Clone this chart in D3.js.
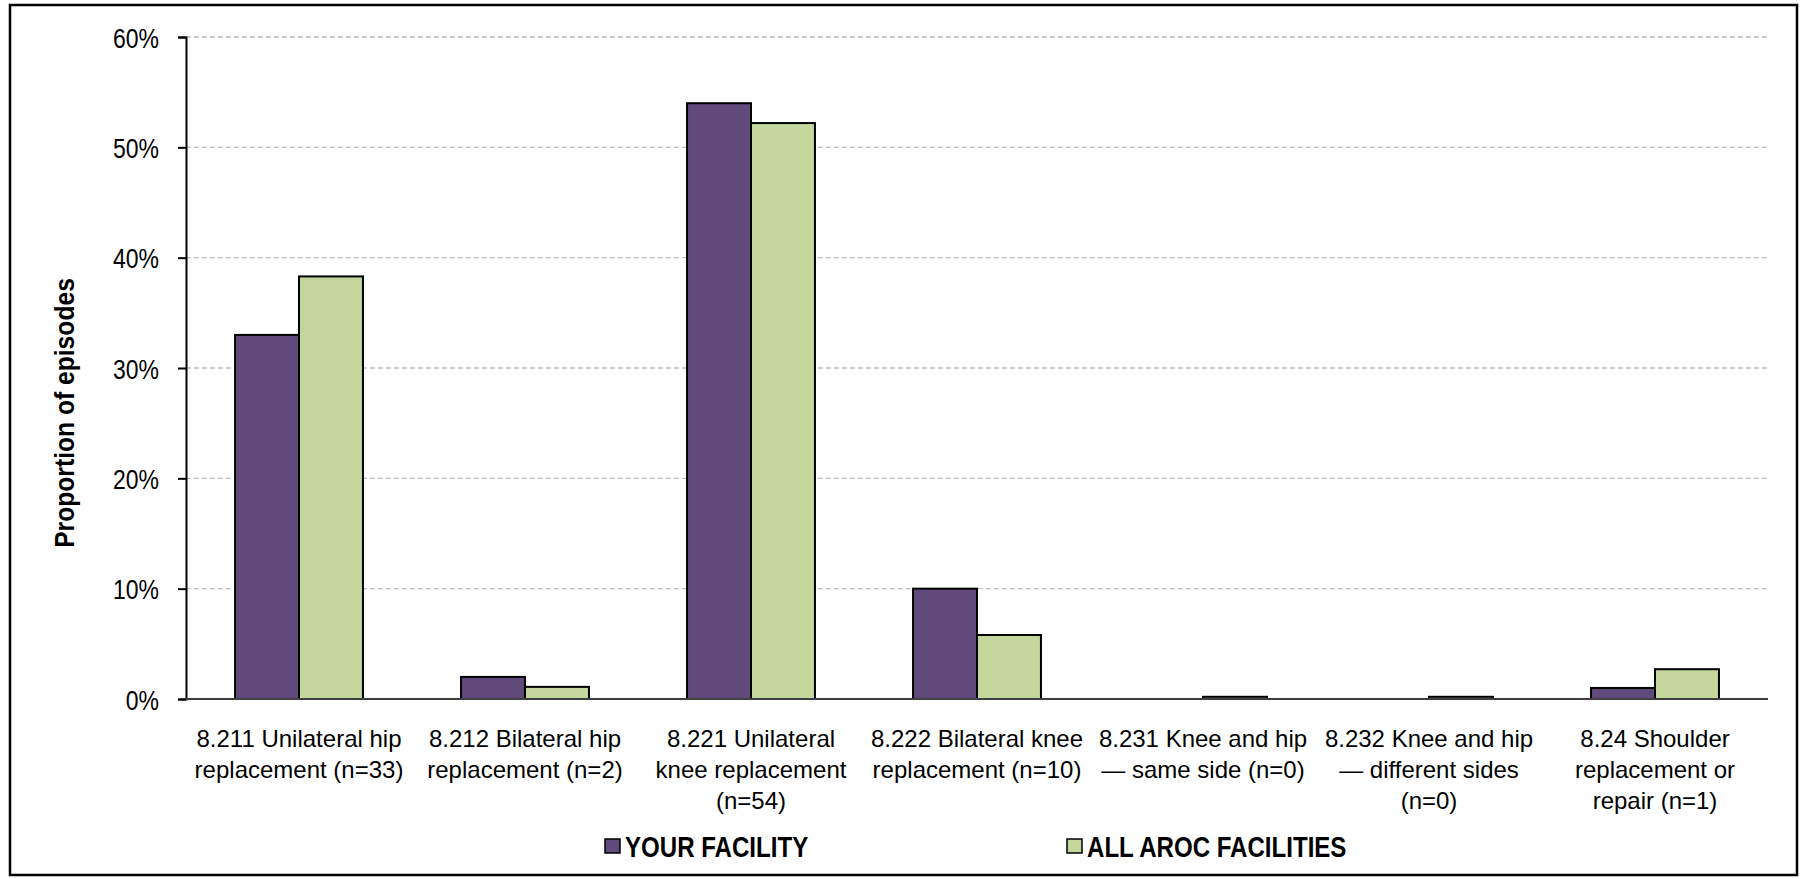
<!DOCTYPE html>
<html>
<head>
<meta charset="utf-8">
<script src="https://cdn.jsdelivr.net/npm/d3@7"></script>
<style>
  html, body { margin: 0; padding: 0; background: #ffffff; }
  svg { display: block; font-family: "Liberation Sans", Arial, sans-serif; }
</style>
</head>
<body>
<svg id="chart" width="1801" height="879"></svg>
<script>
// ---- data ----
const categories = [
  "8.211 Unilateral hip replacement (n=33)",
  "8.212 Bilateral hip replacement (n=2)",
  "8.221 Unilateral knee replacement (n=54)",
  "8.222 Bilateral knee replacement (n=10)",
  "8.231 Knee and hip — same side (n=0)",
  "8.232 Knee and hip — different sides (n=0)",
  "8.24 Shoulder replacement or repair (n=1)"
];
const categoryLines = [
  ["8.211 Unilateral hip", "replacement (n=33)"],
  ["8.212 Bilateral hip", "replacement (n=2)"],
  ["8.221 Unilateral", "knee replacement", "(n=54)"],
  ["8.222 Bilateral knee", "replacement (n=10)"],
  ["8.231 Knee and hip", "— same side (n=0)"],
  ["8.232 Knee and hip", "— different sides", "(n=0)"],
  ["8.24 Shoulder", "replacement or", "repair (n=1)"]
];
const seriesNames = ["YOUR FACILITY", "ALL AROC FACILITIES"];
const yourFacility = [33.0, 2.0, 54.0, 10.0, 0, 0, 1.0];
const allAroc = [38.3, 1.1, 52.2, 5.8, 0.2, 0.2, 2.7];
const yTicks = [0, 10, 20, 30, 40, 50, 60];
const yTitle = "Proportion of episodes";
const colors = ["#604A7B", "#C3D69B"];

// ---- layout ----
const svg = d3.select("#chart");
const plot = { left: 186, right: 1768, top: 37, bottom: 699 };

function squeeze(sel, f) {
  sel.each(function () {
    const w = this.getComputedTextLength();
    d3.select(this).attr("textLength", w * f).attr("lengthAdjust", "spacingAndGlyphs");
  });
}

// outer border
svg.append("rect")
  .attr("x", 10).attr("y", 5).attr("width", 1787).attr("height", 870)
  .attr("fill", "#fff").attr("stroke", "#000").attr("stroke-width", 2.5);

const x = d3.scaleBand().domain(categories).range([plot.left, plot.right])
  .paddingInner(0.434).paddingOuter(0.217);
const xs = d3.scaleBand().domain(seriesNames).range([0, x.bandwidth()]);
const y = d3.scaleLinear().domain([0, 60]).range([plot.bottom, plot.top]);

// gridlines
svg.append("g").selectAll("line").data(yTicks.filter(d => d > 0)).join("line")
  .attr("x1", plot.left).attr("x2", plot.right)
  .attr("y1", d => y(d)).attr("y2", d => y(d))
  .attr("stroke", "#BFBFBF").attr("stroke-width", 1.3).attr("stroke-dasharray", "5,3");

// bars
const data = categories.map((c, i) => ({ c, vals: [yourFacility[i], allAroc[i]] }));
const groups = svg.append("g").selectAll("g").data(data).join("g")
  .attr("transform", d => `translate(${x(d.c)},0)`);
groups.selectAll("rect")
  .data(d => d.vals.map((v, j) => ({ s: seriesNames[j], v, j })).filter(e => e.v > 0))
  .join("rect")
  .attr("x", e => xs(e.s)).attr("width", xs.bandwidth())
  .attr("y", e => y(e.v)).attr("height", e => plot.bottom - y(e.v))
  .attr("fill", e => colors[e.j]).attr("stroke", "#000").attr("stroke-width", 2);

// y axis
const yAxis = svg.append("g").attr("transform", `translate(${plot.left},0)`)
  .call(d3.axisLeft(y).tickValues(yTicks).tickFormat(d => d + "%").tickSize(8).tickPadding(19));
yAxis.select(".domain").attr("stroke", "#000").attr("stroke-width", 2);
yAxis.selectAll(".tick line").attr("stroke", "#000").attr("stroke-width", 2);
yAxis.selectAll(".tick text").attr("font-size", 28).attr("fill", "#000")
  .attr("font-family", "'Liberation Sans', Arial, sans-serif").attr("dy", "0.36em");
squeeze(yAxis.selectAll(".tick text"), 0.82);

// x axis
const xAxis = svg.append("g").attr("transform", `translate(0,${plot.bottom})`)
  .call(d3.axisBottom(x).tickSize(0).tickSizeOuter(0));
xAxis.select(".domain").attr("stroke", "#404040").attr("stroke-width", 2.2)
  .attr("d", `M${plot.left},0H${plot.right}`);
xAxis.selectAll(".tick text").each(function (d, i) {
  const t = d3.select(this);
  t.text(null).attr("y", 0).attr("dy", null)
    .attr("font-size", 24).attr("fill", "#000")
    .attr("font-family", "'Liberation Sans', Arial, sans-serif");
  categoryLines[i].forEach((line, k) => {
    t.append("tspan").attr("x", 0).attr("y", 48 + k * 31).text(line);
  });
});

// y title
const yt = svg.append("text")
  .attr("transform", "translate(74,413) rotate(-90)")
  .attr("text-anchor", "middle").attr("font-size", 28).attr("font-weight", "bold")
  .attr("fill", "#000").text(yTitle);
squeeze(yt, 0.88);

// legend
const legendPos = [{ sx: 605, tx: 625 }, { sx: 1067, tx: 1087 }];
const lg = svg.append("g").selectAll("g").data(seriesNames).join("g");
lg.append("rect")
  .attr("x", (d, i) => legendPos[i].sx).attr("y", 839)
  .attr("width", 15).attr("height", 14)
  .attr("fill", (d, i) => colors[i]).attr("stroke", "#000").attr("stroke-width", 1.5);
const lt = lg.append("text")
  .attr("x", (d, i) => legendPos[i].tx).attr("y", 857)
  .attr("font-size", 29).attr("font-weight", "bold").attr("fill", "#000")
  .text(d => d);
squeeze(lt, 0.83);
</script>
</body>
</html>
